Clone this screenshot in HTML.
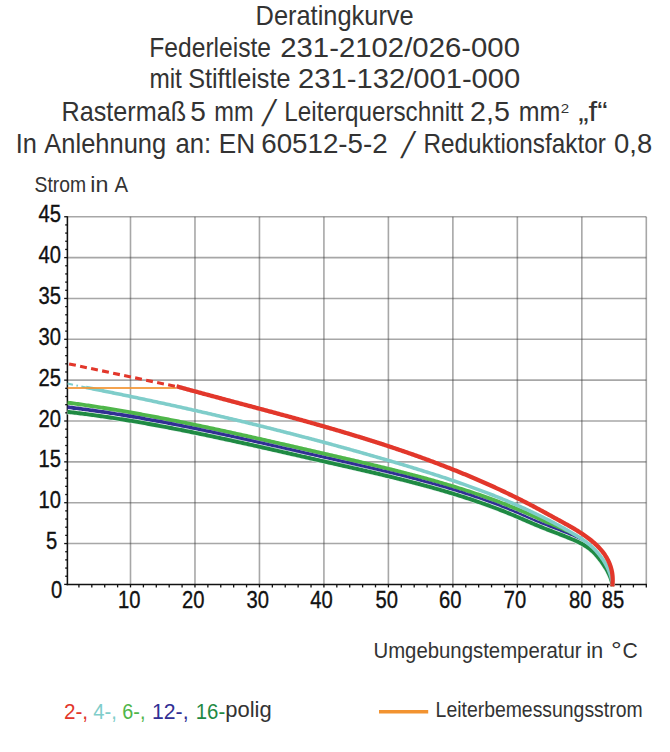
<!DOCTYPE html>
<html lang="de"><head><meta charset="utf-8"><title>Deratingkurve</title>
<style>html,body{margin:0;padding:0;background:#fff;}body{width:670px;height:752px;overflow:hidden;position:relative;}svg{position:absolute;left:0;top:0;display:block;}text{font-family:'Liberation Sans', 'DejaVu Sans', sans-serif;fill:#333;}.ax{font-size:23.5px;fill:#111;stroke:#111;stroke-width:0.35px;}</style></head><body>
<svg width="670" height="752" viewBox="0 0 670 752">
<rect x="0" y="0" width="670" height="752" fill="#fff"/>
<g stroke="#3c3c3c" stroke-opacity="0.45" stroke-width="1.6" fill="none"><line x1="130.50" y1="216.75" x2="130.50" y2="584.40"/><line x1="194.97" y1="216.75" x2="194.97" y2="584.40"/><line x1="259.45" y1="216.75" x2="259.45" y2="584.40"/><line x1="323.92" y1="216.75" x2="323.92" y2="584.40"/><line x1="388.40" y1="216.75" x2="388.40" y2="584.40"/><line x1="452.88" y1="216.75" x2="452.88" y2="584.40"/><line x1="517.35" y1="216.75" x2="517.35" y2="584.40"/><line x1="581.83" y1="216.75" x2="581.83" y2="584.40"/><line x1="646.30" y1="216.75" x2="646.30" y2="584.40"/><line x1="67.40" y1="543.55" x2="646.30" y2="543.55"/><line x1="67.40" y1="502.70" x2="646.30" y2="502.70"/><line x1="67.40" y1="461.85" x2="646.30" y2="461.85"/><line x1="67.40" y1="421.00" x2="646.30" y2="421.00"/><line x1="67.40" y1="380.15" x2="646.30" y2="380.15"/><line x1="67.40" y1="339.30" x2="646.30" y2="339.30"/><line x1="67.40" y1="298.45" x2="646.30" y2="298.45"/><line x1="67.40" y1="257.60" x2="646.30" y2="257.60"/><line x1="67.40" y1="216.75" x2="646.30" y2="216.75"/></g>
<g stroke="#111" fill="none"><line x1="67.40" y1="216.15" x2="67.40" y2="585.20" stroke-width="1.55"/><line x1="66.60" y1="584.40" x2="646.90" y2="584.40" stroke-width="1.55"/><line x1="64.20" y1="584.40" x2="67.40" y2="584.40" stroke-width="1.3"/><line x1="65.20" y1="576.23" x2="67.40" y2="576.23" stroke-width="1.3"/><line x1="65.20" y1="568.06" x2="67.40" y2="568.06" stroke-width="1.3"/><line x1="65.20" y1="559.89" x2="67.40" y2="559.89" stroke-width="1.3"/><line x1="65.20" y1="551.72" x2="67.40" y2="551.72" stroke-width="1.3"/><line x1="64.20" y1="543.55" x2="67.40" y2="543.55" stroke-width="1.3"/><line x1="65.20" y1="535.38" x2="67.40" y2="535.38" stroke-width="1.3"/><line x1="65.20" y1="527.21" x2="67.40" y2="527.21" stroke-width="1.3"/><line x1="65.20" y1="519.04" x2="67.40" y2="519.04" stroke-width="1.3"/><line x1="65.20" y1="510.87" x2="67.40" y2="510.87" stroke-width="1.3"/><line x1="64.20" y1="502.70" x2="67.40" y2="502.70" stroke-width="1.3"/><line x1="65.20" y1="494.53" x2="67.40" y2="494.53" stroke-width="1.3"/><line x1="65.20" y1="486.36" x2="67.40" y2="486.36" stroke-width="1.3"/><line x1="65.20" y1="478.19" x2="67.40" y2="478.19" stroke-width="1.3"/><line x1="65.20" y1="470.02" x2="67.40" y2="470.02" stroke-width="1.3"/><line x1="64.20" y1="461.85" x2="67.40" y2="461.85" stroke-width="1.3"/><line x1="65.20" y1="453.68" x2="67.40" y2="453.68" stroke-width="1.3"/><line x1="65.20" y1="445.51" x2="67.40" y2="445.51" stroke-width="1.3"/><line x1="65.20" y1="437.34" x2="67.40" y2="437.34" stroke-width="1.3"/><line x1="65.20" y1="429.17" x2="67.40" y2="429.17" stroke-width="1.3"/><line x1="64.20" y1="421.00" x2="67.40" y2="421.00" stroke-width="1.3"/><line x1="65.20" y1="412.83" x2="67.40" y2="412.83" stroke-width="1.3"/><line x1="65.20" y1="404.66" x2="67.40" y2="404.66" stroke-width="1.3"/><line x1="65.20" y1="396.49" x2="67.40" y2="396.49" stroke-width="1.3"/><line x1="65.20" y1="388.32" x2="67.40" y2="388.32" stroke-width="1.3"/><line x1="64.20" y1="380.15" x2="67.40" y2="380.15" stroke-width="1.3"/><line x1="65.20" y1="371.98" x2="67.40" y2="371.98" stroke-width="1.3"/><line x1="65.20" y1="363.81" x2="67.40" y2="363.81" stroke-width="1.3"/><line x1="65.20" y1="355.64" x2="67.40" y2="355.64" stroke-width="1.3"/><line x1="65.20" y1="347.47" x2="67.40" y2="347.47" stroke-width="1.3"/><line x1="64.20" y1="339.30" x2="67.40" y2="339.30" stroke-width="1.3"/><line x1="65.20" y1="331.13" x2="67.40" y2="331.13" stroke-width="1.3"/><line x1="65.20" y1="322.96" x2="67.40" y2="322.96" stroke-width="1.3"/><line x1="65.20" y1="314.79" x2="67.40" y2="314.79" stroke-width="1.3"/><line x1="65.20" y1="306.62" x2="67.40" y2="306.62" stroke-width="1.3"/><line x1="64.20" y1="298.45" x2="67.40" y2="298.45" stroke-width="1.3"/><line x1="65.20" y1="290.28" x2="67.40" y2="290.28" stroke-width="1.3"/><line x1="65.20" y1="282.11" x2="67.40" y2="282.11" stroke-width="1.3"/><line x1="65.20" y1="273.94" x2="67.40" y2="273.94" stroke-width="1.3"/><line x1="65.20" y1="265.77" x2="67.40" y2="265.77" stroke-width="1.3"/><line x1="64.20" y1="257.60" x2="67.40" y2="257.60" stroke-width="1.3"/><line x1="65.20" y1="249.43" x2="67.40" y2="249.43" stroke-width="1.3"/><line x1="65.20" y1="241.26" x2="67.40" y2="241.26" stroke-width="1.3"/><line x1="65.20" y1="233.09" x2="67.40" y2="233.09" stroke-width="1.3"/><line x1="65.20" y1="224.92" x2="67.40" y2="224.92" stroke-width="1.3"/><line x1="64.20" y1="216.75" x2="67.40" y2="216.75" stroke-width="1.3"/><line x1="78.92" y1="584.40" x2="78.92" y2="587.40" stroke-width="1.3"/><line x1="91.81" y1="584.40" x2="91.81" y2="587.40" stroke-width="1.3"/><line x1="104.71" y1="584.40" x2="104.71" y2="587.40" stroke-width="1.3"/><line x1="117.61" y1="584.40" x2="117.61" y2="587.40" stroke-width="1.3"/><line x1="130.50" y1="584.40" x2="130.50" y2="587.40" stroke-width="1.3"/><line x1="143.40" y1="584.40" x2="143.40" y2="587.40" stroke-width="1.3"/><line x1="156.29" y1="584.40" x2="156.29" y2="587.40" stroke-width="1.3"/><line x1="169.19" y1="584.40" x2="169.19" y2="587.40" stroke-width="1.3"/><line x1="182.08" y1="584.40" x2="182.08" y2="587.40" stroke-width="1.3"/><line x1="194.97" y1="584.40" x2="194.97" y2="587.40" stroke-width="1.3"/><line x1="207.87" y1="584.40" x2="207.87" y2="587.40" stroke-width="1.3"/><line x1="220.76" y1="584.40" x2="220.76" y2="587.40" stroke-width="1.3"/><line x1="233.66" y1="584.40" x2="233.66" y2="587.40" stroke-width="1.3"/><line x1="246.56" y1="584.40" x2="246.56" y2="587.40" stroke-width="1.3"/><line x1="259.45" y1="584.40" x2="259.45" y2="587.40" stroke-width="1.3"/><line x1="272.35" y1="584.40" x2="272.35" y2="587.40" stroke-width="1.3"/><line x1="285.24" y1="584.40" x2="285.24" y2="587.40" stroke-width="1.3"/><line x1="298.13" y1="584.40" x2="298.13" y2="587.40" stroke-width="1.3"/><line x1="311.03" y1="584.40" x2="311.03" y2="587.40" stroke-width="1.3"/><line x1="323.92" y1="584.40" x2="323.92" y2="587.40" stroke-width="1.3"/><line x1="336.82" y1="584.40" x2="336.82" y2="587.40" stroke-width="1.3"/><line x1="349.72" y1="584.40" x2="349.72" y2="587.40" stroke-width="1.3"/><line x1="362.61" y1="584.40" x2="362.61" y2="587.40" stroke-width="1.3"/><line x1="375.50" y1="584.40" x2="375.50" y2="587.40" stroke-width="1.3"/><line x1="388.40" y1="584.40" x2="388.40" y2="587.40" stroke-width="1.3"/><line x1="401.30" y1="584.40" x2="401.30" y2="587.40" stroke-width="1.3"/><line x1="414.19" y1="584.40" x2="414.19" y2="587.40" stroke-width="1.3"/><line x1="427.08" y1="584.40" x2="427.08" y2="587.40" stroke-width="1.3"/><line x1="439.98" y1="584.40" x2="439.98" y2="587.40" stroke-width="1.3"/><line x1="452.88" y1="584.40" x2="452.88" y2="587.40" stroke-width="1.3"/><line x1="465.77" y1="584.40" x2="465.77" y2="587.40" stroke-width="1.3"/><line x1="478.66" y1="584.40" x2="478.66" y2="587.40" stroke-width="1.3"/><line x1="491.56" y1="584.40" x2="491.56" y2="587.40" stroke-width="1.3"/><line x1="504.45" y1="584.40" x2="504.45" y2="587.40" stroke-width="1.3"/><line x1="517.35" y1="584.40" x2="517.35" y2="587.40" stroke-width="1.3"/><line x1="530.25" y1="584.40" x2="530.25" y2="587.40" stroke-width="1.3"/><line x1="543.14" y1="584.40" x2="543.14" y2="587.40" stroke-width="1.3"/><line x1="556.03" y1="584.40" x2="556.03" y2="587.40" stroke-width="1.3"/><line x1="568.93" y1="584.40" x2="568.93" y2="587.40" stroke-width="1.3"/><line x1="581.83" y1="584.40" x2="581.83" y2="587.40" stroke-width="1.3"/><line x1="594.72" y1="584.40" x2="594.72" y2="587.40" stroke-width="1.3"/><line x1="607.62" y1="584.40" x2="607.62" y2="587.40" stroke-width="1.3"/><line x1="620.51" y1="584.40" x2="620.51" y2="587.40" stroke-width="1.3"/><line x1="633.40" y1="584.40" x2="633.40" y2="587.40" stroke-width="1.3"/><line x1="646.30" y1="584.40" x2="646.30" y2="587.40" stroke-width="1.3"/></g>
<text class="ax" x="57.3" y="549.1" text-anchor="end" transform="translate(57.3 0) scale(0.86 1) translate(-57.3 0)">5</text><text class="ax" x="60.9" y="508.3" text-anchor="end" transform="translate(60.9 0) scale(0.86 1) translate(-60.9 0)">10</text><text class="ax" x="60.9" y="467.4" text-anchor="end" transform="translate(60.9 0) scale(0.86 1) translate(-60.9 0)">15</text><text class="ax" x="60.9" y="426.6" text-anchor="end" transform="translate(60.9 0) scale(0.86 1) translate(-60.9 0)">20</text><text class="ax" x="60.9" y="385.8" text-anchor="end" transform="translate(60.9 0) scale(0.86 1) translate(-60.9 0)">25</text><text class="ax" x="60.9" y="344.9" text-anchor="end" transform="translate(60.9 0) scale(0.86 1) translate(-60.9 0)">30</text><text class="ax" x="60.9" y="304.1" text-anchor="end" transform="translate(60.9 0) scale(0.86 1) translate(-60.9 0)">35</text><text class="ax" x="60.9" y="263.2" text-anchor="end" transform="translate(60.9 0) scale(0.86 1) translate(-60.9 0)">40</text><text class="ax" x="60.9" y="222.3" text-anchor="end" transform="translate(60.9 0) scale(0.86 1) translate(-60.9 0)">45</text><text class="ax" x="62.2" y="598.2" text-anchor="end" transform="translate(62.2 0) scale(0.86 1) translate(-62.2 0)">0</text>
<text class="ax" x="129.2" y="608.5" text-anchor="middle" transform="translate(129.2 0) scale(0.86 1) translate(-129.2 0)">10</text><text class="ax" x="193.2" y="608.5" text-anchor="middle" transform="translate(193.2 0) scale(0.86 1) translate(-193.2 0)">20</text><text class="ax" x="257.7" y="608.5" text-anchor="middle" transform="translate(257.7 0) scale(0.86 1) translate(-257.7 0)">30</text><text class="ax" x="321.5" y="608.5" text-anchor="middle" transform="translate(321.5 0) scale(0.86 1) translate(-321.5 0)">40</text><text class="ax" x="386.7" y="608.5" text-anchor="middle" transform="translate(386.7 0) scale(0.86 1) translate(-386.7 0)">50</text><text class="ax" x="450.3" y="608.5" text-anchor="middle" transform="translate(450.3 0) scale(0.86 1) translate(-450.3 0)">60</text><text class="ax" x="515.0" y="608.5" text-anchor="middle" transform="translate(515.0 0) scale(0.86 1) translate(-515.0 0)">70</text><text class="ax" x="580.3" y="608.5" text-anchor="middle" transform="translate(580.3 0) scale(0.86 1) translate(-580.3 0)">80</text><text class="ax" x="612.9" y="608.5" text-anchor="middle" transform="translate(612.9 0) scale(0.86 1) translate(-612.9 0)">85</text>
<path d="M67.53,402.63 L69.00,402.83 L70.48,403.03 L71.96,403.23 L73.43,403.43 L74.91,403.64 L76.38,403.84 L77.85,404.05 L79.33,404.26 L80.80,404.47 L82.27,404.68 L83.74,404.90 L85.22,405.11 L86.69,405.33 L88.16,405.55 L89.63,405.76 L91.10,405.99 L92.57,406.21 L94.04,406.43 L95.51,406.66 L96.97,406.88 L98.44,407.11 L99.91,407.34 L101.38,407.57 L102.84,407.80 L104.31,408.04 L105.77,408.27 L107.24,408.51 L108.71,408.74 L110.17,408.98 L111.63,409.22 L113.10,409.46 L114.56,409.71 L116.02,409.95 L117.49,410.20 L118.95,410.44 L120.41,410.69 L121.87,410.94 L123.34,411.19 L124.80,411.44 L126.26,411.69 L127.72,411.95 L129.18,412.20 L130.64,412.46 L132.10,412.72 L133.56,412.98 L135.02,413.23 L136.47,413.50 L137.93,413.76 L139.39,414.02 L140.85,414.29 L142.30,414.55 L143.76,414.82 L145.22,415.09 L146.67,415.35 L148.13,415.62 L149.59,415.90 L151.04,416.17 L152.50,416.44 L153.95,416.72 L155.41,416.99 L156.86,417.27 L158.32,417.54 L159.77,417.82 L161.22,418.10 L162.68,418.38 L164.13,418.66 L165.58,418.95 L167.03,419.23 L168.49,419.51 L169.94,419.80 L171.39,420.08 L172.84,420.37 L174.29,420.66 L175.75,420.95 L177.20,421.24 L178.65,421.53 L180.10,421.82 L181.55,422.11 L183.00,422.41 L184.45,422.70 L185.90,422.99 L187.35,423.29 L188.80,423.59 L190.25,423.88 L191.70,424.18 L193.15,424.48 L194.59,424.78 L196.04,425.08 L197.49,425.38 L198.94,425.69 L200.39,425.99 L201.83,426.29 L203.28,426.60 L204.73,426.90 L206.18,427.21 L207.62,427.51 L209.07,427.82 L210.52,428.13 L211.97,428.44 L213.41,428.75 L214.86,429.06 L216.31,429.37 L217.75,429.68 L219.20,429.99 L220.64,430.30 L222.09,430.62 L223.54,430.93 L224.98,431.24 L226.43,431.56 L227.87,431.87 L229.32,432.19 L230.76,432.51 L232.21,432.82 L233.66,433.14 L235.10,433.46 L236.55,433.78 L237.99,434.10 L239.44,434.42 L240.88,434.74 L242.33,435.06 L243.77,435.38 L245.21,435.70 L246.66,436.02 L248.10,436.34 L249.55,436.67 L250.99,436.99 L252.44,437.31 L253.88,437.64 L255.33,437.96 L256.77,438.29 L258.22,438.61 L259.66,438.94 L261.10,439.26 L262.55,439.59 L263.99,439.92 L265.44,440.24 L266.88,440.57 L268.33,440.90 L269.77,441.23 L271.22,441.56 L272.66,441.88 L274.10,442.21 L275.55,442.54 L276.99,442.87 L278.44,443.20 L279.88,443.53 L281.33,443.86 L282.77,444.19 L284.22,444.52 L285.66,444.85 L287.11,445.18 L288.55,445.51 L289.99,445.85 L291.44,446.18 L292.88,446.51 L294.33,446.84 L295.77,447.17 L297.22,447.50 L298.67,447.84 L300.11,448.17 L301.56,448.50 L303.00,448.83 L304.45,449.17 L305.89,449.50 L307.34,449.83 L308.78,450.16 L310.23,450.50 L311.68,450.83 L313.12,451.16 L314.57,451.49 L316.02,451.83 L317.46,452.16 L318.91,452.49 L320.36,452.83 L321.80,453.16 L323.25,453.49 L324.70,453.82 L326.14,454.16 L327.59,454.49 L329.04,454.82 L330.49,455.15 L331.93,455.49 L333.38,455.82 L334.83,456.15 L336.28,456.49 L337.73,456.82 L339.17,457.15 L340.62,457.49 L342.07,457.82 L343.52,458.15 L344.97,458.49 L346.41,458.82 L347.86,459.16 L349.31,459.49 L350.76,459.83 L352.21,460.17 L353.65,460.50 L355.10,460.84 L356.55,461.18 L358.00,461.52 L359.44,461.86 L360.89,462.19 L362.34,462.53 L363.79,462.88 L365.23,463.22 L366.68,463.56 L368.13,463.90 L369.57,464.25 L371.02,464.59 L372.46,464.93 L373.91,465.28 L375.35,465.63 L376.80,465.97 L378.24,466.32 L379.69,466.67 L381.13,467.02 L382.58,467.37 L384.02,467.73 L385.46,468.08 L386.91,468.43 L388.35,468.79 L389.79,469.15 L391.23,469.50 L392.68,469.86 L394.12,470.22 L395.56,470.58 L397.00,470.95 L398.44,471.31 L399.88,471.67 L401.32,472.04 L402.76,472.41 L404.19,472.78 L405.63,473.15 L407.07,473.52 L408.51,473.89 L409.94,474.27 L411.38,474.64 L412.81,475.02 L414.25,475.40 L415.68,475.78 L417.12,476.16 L418.55,476.55 L419.98,476.93 L421.41,477.32 L422.84,477.71 L424.28,478.10 L425.71,478.49 L427.13,478.89 L428.56,479.28 L429.99,479.68 L431.42,480.08 L432.85,480.48 L434.27,480.88 L435.70,481.29 L437.12,481.70 L438.55,482.10 L439.97,482.52 L441.39,482.93 L442.81,483.34 L444.23,483.76 L445.65,484.18 L447.07,484.60 L448.49,485.03 L449.91,485.45 L451.33,485.88 L452.74,486.31 L454.16,486.74 L455.57,487.18 L456.99,487.61 L458.40,488.05 L459.81,488.50 L461.22,488.94 L462.63,489.39 L464.04,489.83 L465.45,490.29 L466.86,490.74 L468.26,491.20 L469.67,491.66 L471.07,492.12 L472.47,492.58 L473.88,493.05 L475.28,493.52 L476.68,493.99 L478.08,494.46 L479.48,494.94 L480.87,495.42 L482.27,495.90 L483.66,496.39 L485.06,496.88 L486.45,497.37 L487.84,497.87 L489.23,498.36 L490.62,498.86 L492.01,499.37 L493.40,499.87 L494.78,500.38 L496.17,500.89 L497.55,501.41 L498.94,501.93 L500.32,502.45 L501.70,502.97 L503.08,503.50 L504.45,504.03 L505.83,504.56 L507.20,505.10 L508.58,505.64 L509.95,506.19 L511.32,506.73 L512.69,507.28 L514.06,507.84 L515.43,508.39 L516.79,508.95 L518.16,509.52 L519.52,510.09 L520.88,510.66 L522.24,511.23 L523.60,511.81 L524.96,512.39 L526.32,512.98 L527.67,513.56 L529.03,514.16 L530.38,514.75 L531.73,515.35 L533.08,515.96 L534.42,516.56 L535.77,517.17 L537.12,517.79 L538.46,518.41 L539.80,519.03 L541.14,519.66 L542.48,520.29 L543.82,520.92 L545.15,521.56 L546.48,522.20 L547.82,522.85 L549.15,523.50 L550.48,524.15 L551.80,524.81 L553.13,525.47 L554.45,526.14 L555.78,526.81 L557.10,527.49 L558.42,528.16 L559.73,528.85 L561.05,529.54 L562.36,530.23 L563.67,530.92 L564.99,531.62 L566.29,532.33 L567.60,533.04 L568.91,533.75 L570.21,534.47 L571.51,535.19 L572.81,535.92 L574.11,536.65 L575.40,537.40 L576.68,538.15 L577.96,538.91 L579.23,539.68 L580.49,540.46 L581.74,541.25 L582.98,542.06 L584.21,542.88 L585.43,543.72 L586.63,544.57 L587.82,545.45 L588.99,546.34 L590.14,547.25 L591.27,548.18 L592.39,549.14 L593.48,550.11 L594.56,551.11 L595.61,552.14 L596.64,553.18 L597.64,554.25 L598.62,555.34 L599.58,556.45 L600.51,557.59 L601.41,558.75 L602.29,559.93 L603.13,561.13 L603.95,562.36 L604.74,563.61 L605.50,564.88 L606.23,566.17 L606.92,567.48 L607.58,568.81 L608.21,570.16 L608.80,571.54 L609.36,572.93 L609.88,574.33 L610.36,575.76 L610.81,577.20 L611.22,578.66 L611.59,580.14 L611.92,581.64 L612.20,583.14 L612.45,584.67 L612.65,586.21" stroke="#4fb64a" stroke-width="3.9" fill="none" stroke-linejoin="round"/>
<path d="M67.55,407.24 L69.02,407.42 L70.49,407.60 L71.96,407.78 L73.43,407.96 L74.90,408.15 L76.37,408.34 L77.83,408.53 L79.30,408.72 L80.77,408.91 L82.24,409.11 L83.70,409.31 L85.17,409.51 L86.64,409.71 L88.10,409.91 L89.57,410.11 L91.03,410.32 L92.50,410.53 L93.96,410.74 L95.42,410.95 L96.89,411.16 L98.35,411.37 L99.81,411.59 L101.27,411.81 L102.73,412.03 L104.19,412.25 L105.66,412.47 L107.12,412.69 L108.58,412.92 L110.04,413.15 L111.49,413.38 L112.95,413.61 L114.41,413.84 L115.87,414.07 L117.33,414.31 L118.78,414.54 L120.24,414.78 L121.70,415.02 L123.15,415.26 L124.61,415.51 L126.07,415.75 L127.52,415.99 L128.98,416.24 L130.43,416.49 L131.89,416.74 L133.34,416.99 L134.79,417.24 L136.25,417.50 L137.70,417.75 L139.15,418.01 L140.61,418.27 L142.06,418.52 L143.51,418.79 L144.96,419.05 L146.41,419.31 L147.86,419.57 L149.31,419.84 L150.76,420.11 L152.21,420.37 L153.66,420.64 L155.11,420.91 L156.56,421.19 L158.01,421.46 L159.46,421.73 L160.91,422.01 L162.36,422.28 L163.81,422.56 L165.25,422.84 L166.70,423.12 L168.15,423.40 L169.60,423.68 L171.04,423.96 L172.49,424.25 L173.94,424.53 L175.38,424.82 L176.83,425.11 L178.28,425.39 L179.72,425.68 L181.17,425.97 L182.61,426.26 L184.06,426.56 L185.50,426.85 L186.95,427.14 L188.39,427.44 L189.83,427.73 L191.28,428.03 L192.72,428.33 L194.17,428.63 L195.61,428.93 L197.05,429.23 L198.50,429.53 L199.94,429.83 L201.38,430.13 L202.82,430.44 L204.27,430.74 L205.71,431.04 L207.15,431.35 L208.59,431.66 L210.04,431.96 L211.48,432.27 L212.92,432.58 L214.36,432.89 L215.80,433.20 L217.24,433.51 L218.68,433.82 L220.12,434.14 L221.57,434.45 L223.01,434.76 L224.45,435.08 L225.89,435.39 L227.33,435.71 L228.77,436.02 L230.21,436.34 L231.65,436.66 L233.09,436.98 L234.53,437.30 L235.97,437.61 L237.41,437.93 L238.85,438.25 L240.29,438.57 L241.73,438.90 L243.17,439.22 L244.61,439.54 L246.05,439.86 L247.49,440.18 L248.92,440.51 L250.36,440.83 L251.80,441.16 L253.24,441.48 L254.68,441.80 L256.12,442.13 L257.56,442.46 L259.00,442.78 L260.44,443.11 L261.88,443.43 L263.32,443.76 L264.75,444.09 L266.19,444.42 L267.63,444.74 L269.07,445.07 L270.51,445.40 L271.95,445.73 L273.39,446.06 L274.83,446.39 L276.27,446.72 L277.71,447.05 L279.14,447.38 L280.58,447.71 L282.02,448.04 L283.46,448.37 L284.90,448.70 L286.34,449.03 L287.78,449.36 L289.22,449.69 L290.66,450.02 L292.10,450.35 L293.54,450.68 L294.97,451.01 L296.41,451.34 L297.85,451.67 L299.29,452.00 L300.73,452.33 L302.17,452.66 L303.61,453.00 L305.05,453.33 L306.49,453.66 L307.93,453.99 L309.37,454.32 L310.81,454.65 L312.25,454.98 L313.69,455.31 L315.13,455.64 L316.57,455.97 L318.01,456.30 L319.46,456.63 L320.90,456.96 L322.34,457.29 L323.78,457.62 L325.22,457.95 L326.66,458.28 L328.10,458.61 L329.54,458.94 L330.99,459.26 L332.43,459.59 L333.87,459.92 L335.31,460.25 L336.75,460.58 L338.19,460.91 L339.64,461.24 L341.08,461.57 L342.52,461.89 L343.96,462.22 L345.40,462.55 L346.85,462.88 L348.29,463.21 L349.73,463.54 L351.17,463.87 L352.61,464.21 L354.05,464.54 L355.49,464.87 L356.94,465.20 L358.38,465.53 L359.82,465.87 L361.26,466.20 L362.70,466.54 L364.14,466.87 L365.58,467.21 L367.02,467.54 L368.46,467.88 L369.90,468.22 L371.34,468.56 L372.78,468.90 L374.22,469.24 L375.66,469.58 L377.09,469.92 L378.53,470.26 L379.97,470.61 L381.41,470.95 L382.84,471.30 L384.28,471.64 L385.72,471.99 L387.15,472.34 L388.59,472.69 L390.02,473.04 L391.46,473.39 L392.89,473.75 L394.33,474.10 L395.76,474.46 L397.20,474.82 L398.63,475.17 L400.06,475.53 L401.49,475.90 L402.92,476.26 L404.36,476.62 L405.79,476.99 L407.22,477.36 L408.65,477.73 L410.08,478.10 L411.50,478.47 L412.93,478.84 L414.36,479.22 L415.79,479.59 L417.21,479.97 L418.64,480.35 L420.06,480.74 L421.49,481.12 L422.91,481.51 L424.33,481.89 L425.76,482.28 L427.18,482.67 L428.60,483.07 L430.02,483.46 L431.44,483.86 L432.86,484.26 L434.28,484.66 L435.70,485.07 L437.11,485.47 L438.53,485.88 L439.95,486.29 L441.36,486.70 L442.77,487.12 L444.19,487.53 L445.60,487.95 L447.01,488.38 L448.42,488.80 L449.83,489.23 L451.24,489.65 L452.65,490.09 L454.06,490.52 L455.46,490.96 L456.87,491.39 L458.27,491.84 L459.68,492.28 L461.08,492.73 L462.48,493.18 L463.88,493.63 L465.28,494.08 L466.68,494.54 L468.08,495.00 L469.48,495.46 L470.87,495.93 L472.27,496.40 L473.66,496.87 L475.06,497.35 L476.45,497.82 L477.84,498.30 L479.23,498.79 L480.62,499.28 L482.01,499.77 L483.39,500.26 L484.78,500.75 L486.16,501.25 L487.55,501.76 L488.93,502.26 L490.31,502.77 L491.69,503.28 L493.07,503.80 L494.44,504.32 L495.82,504.84 L497.20,505.37 L498.57,505.90 L499.94,506.43 L501.31,506.97 L502.68,507.51 L504.05,508.05 L505.42,508.60 L506.79,509.15 L508.15,509.70 L509.52,510.26 L510.88,510.82 L512.24,511.39 L513.60,511.96 L514.96,512.53 L516.32,513.11 L517.67,513.69 L519.03,514.27 L520.38,514.86 L521.73,515.45 L523.08,516.04 L524.44,516.64 L525.79,517.23 L527.14,517.83 L528.49,518.42 L529.84,519.02 L531.20,519.61 L532.55,520.21 L533.90,520.80 L535.26,521.39 L536.62,521.98 L537.98,522.56 L539.34,523.14 L540.70,523.72 L542.07,524.29 L543.43,524.86 L544.80,525.43 L546.17,525.99 L547.54,526.56 L548.91,527.12 L550.28,527.68 L551.65,528.24 L553.02,528.81 L554.39,529.37 L555.76,529.94 L557.12,530.51 L558.49,531.08 L559.85,531.66 L561.21,532.24 L562.56,532.83 L563.91,533.42 L565.26,534.02 L566.60,534.63 L567.94,535.24 L569.27,535.87 L570.60,536.50 L571.92,537.15 L573.23,537.80 L574.54,538.47 L575.84,539.15 L577.13,539.84 L578.41,540.55 L579.68,541.27 L580.94,542.01 L582.19,542.77 L583.42,543.55 L584.64,544.35 L585.85,545.17 L587.03,546.01 L588.21,546.87 L589.36,547.76 L590.50,548.67 L591.62,549.61 L592.71,550.58 L593.79,551.57 L594.85,552.59 L595.88,553.64 L596.89,554.71 L597.88,555.80 L598.85,556.92 L599.79,558.06 L600.71,559.22 L601.60,560.40 L602.47,561.61 L603.31,562.83 L604.13,564.08 L604.91,565.35 L605.67,566.63 L606.39,567.93 L607.09,569.24 L607.76,570.58 L608.39,571.92 L608.99,573.28 L609.55,574.65 L610.08,576.04 L610.57,577.43 L611.03,578.83 L611.45,580.25 L611.83,581.67 L612.17,583.09 L612.46,584.53 L612.72,585.97" stroke="#312f94" stroke-width="3.9" fill="none" stroke-linejoin="round"/>
<path d="M67.54,411.86 L69.01,412.03 L70.47,412.20 L71.94,412.37 L73.41,412.54 L74.87,412.72 L76.34,412.90 L77.80,413.07 L79.27,413.26 L80.73,413.44 L82.19,413.62 L83.65,413.81 L85.12,414.00 L86.58,414.19 L88.04,414.38 L89.50,414.58 L90.96,414.77 L92.42,414.97 L93.88,415.17 L95.34,415.37 L96.80,415.58 L98.26,415.78 L99.72,415.99 L101.17,416.20 L102.63,416.41 L104.09,416.62 L105.55,416.83 L107.00,417.05 L108.46,417.27 L109.91,417.48 L111.37,417.70 L112.82,417.93 L114.28,418.15 L115.73,418.38 L117.18,418.60 L118.64,418.83 L120.09,419.06 L121.54,419.29 L122.99,419.52 L124.45,419.76 L125.90,419.99 L127.35,420.23 L128.80,420.47 L130.25,420.71 L131.70,420.95 L133.15,421.20 L134.60,421.44 L136.05,421.69 L137.50,421.93 L138.94,422.18 L140.39,422.43 L141.84,422.69 L143.29,422.94 L144.73,423.19 L146.18,423.45 L147.63,423.71 L149.07,423.96 L150.52,424.22 L151.97,424.49 L153.41,424.75 L154.86,425.01 L156.30,425.28 L157.75,425.54 L159.19,425.81 L160.63,426.08 L162.08,426.35 L163.52,426.62 L164.96,426.89 L166.41,427.16 L167.85,427.44 L169.29,427.71 L170.74,427.99 L172.18,428.27 L173.62,428.55 L175.06,428.83 L176.50,429.11 L177.94,429.39 L179.38,429.67 L180.82,429.96 L182.26,430.24 L183.71,430.53 L185.15,430.82 L186.59,431.10 L188.02,431.39 L189.46,431.68 L190.90,431.98 L192.34,432.27 L193.78,432.56 L195.22,432.85 L196.66,433.15 L198.10,433.44 L199.54,433.74 L200.97,434.04 L202.41,434.34 L203.85,434.64 L205.29,434.94 L206.72,435.24 L208.16,435.54 L209.60,435.84 L211.03,436.14 L212.47,436.45 L213.91,436.75 L215.34,437.06 L216.78,437.36 L218.22,437.67 L219.65,437.98 L221.09,438.29 L222.53,438.60 L223.96,438.91 L225.40,439.22 L226.83,439.53 L228.27,439.84 L229.70,440.15 L231.14,440.46 L232.57,440.78 L234.01,441.09 L235.44,441.41 L236.88,441.72 L238.31,442.04 L239.75,442.35 L241.18,442.67 L242.62,442.99 L244.05,443.31 L245.49,443.62 L246.92,443.94 L248.36,444.26 L249.79,444.58 L251.22,444.90 L252.66,445.22 L254.09,445.54 L255.53,445.86 L256.96,446.19 L258.39,446.51 L259.83,446.83 L261.26,447.15 L262.70,447.48 L264.13,447.80 L265.56,448.12 L267.00,448.45 L268.43,448.77 L269.87,449.10 L271.30,449.42 L272.73,449.75 L274.17,450.07 L275.60,450.40 L277.04,450.72 L278.47,451.05 L279.90,451.38 L281.34,451.70 L282.77,452.03 L284.21,452.35 L285.64,452.68 L287.07,453.01 L288.51,453.34 L289.94,453.66 L291.38,453.99 L292.81,454.32 L294.25,454.64 L295.68,454.97 L297.12,455.30 L298.55,455.63 L299.98,455.95 L301.42,456.28 L302.85,456.61 L304.29,456.94 L305.72,457.26 L307.16,457.59 L308.59,457.92 L310.03,458.25 L311.46,458.57 L312.90,458.90 L314.34,459.23 L315.77,459.55 L317.21,459.88 L318.64,460.21 L320.08,460.53 L321.52,460.86 L322.95,461.19 L324.39,461.51 L325.82,461.84 L327.26,462.16 L328.70,462.49 L330.13,462.81 L331.57,463.14 L333.01,463.46 L334.44,463.79 L335.88,464.11 L337.32,464.44 L338.76,464.76 L340.19,465.09 L341.63,465.42 L343.07,465.74 L344.50,466.07 L345.94,466.39 L347.38,466.72 L348.82,467.05 L350.25,467.37 L351.69,467.70 L353.13,468.03 L354.56,468.36 L356.00,468.68 L357.44,469.01 L358.87,469.34 L360.31,469.67 L361.74,470.00 L363.18,470.33 L364.62,470.67 L366.05,471.00 L367.49,471.33 L368.92,471.67 L370.36,472.00 L371.79,472.34 L373.23,472.67 L374.66,473.01 L376.09,473.35 L377.53,473.68 L378.96,474.02 L380.39,474.36 L381.83,474.71 L383.26,475.05 L384.69,475.39 L386.12,475.74 L387.55,476.08 L388.99,476.43 L390.42,476.77 L391.85,477.12 L393.28,477.47 L394.71,477.82 L396.13,478.18 L397.56,478.53 L398.99,478.89 L400.42,479.24 L401.85,479.60 L403.27,479.96 L404.70,480.32 L406.13,480.68 L407.55,481.05 L408.98,481.41 L410.40,481.78 L411.82,482.15 L413.25,482.52 L414.67,482.89 L416.09,483.26 L417.51,483.64 L418.94,484.01 L420.36,484.39 L421.78,484.77 L423.20,485.15 L424.61,485.54 L426.03,485.92 L427.45,486.31 L428.87,486.70 L430.28,487.09 L431.70,487.49 L433.11,487.88 L434.53,488.28 L435.94,488.68 L437.35,489.08 L438.76,489.48 L440.17,489.89 L441.58,490.30 L442.99,490.71 L444.40,491.12 L445.81,491.54 L447.22,491.96 L448.62,492.38 L450.03,492.80 L451.43,493.22 L452.84,493.65 L454.24,494.08 L455.64,494.51 L457.04,494.95 L458.44,495.38 L459.84,495.82 L461.24,496.26 L462.64,496.71 L464.03,497.16 L465.43,497.61 L466.82,498.06 L468.22,498.52 L469.61,498.97 L471.00,499.44 L472.39,499.90 L473.78,500.37 L475.17,500.84 L476.56,501.31 L477.94,501.79 L479.33,502.27 L480.71,502.75 L482.10,503.23 L483.48,503.72 L484.86,504.21 L486.24,504.71 L487.62,505.20 L489.00,505.70 L490.37,506.21 L491.75,506.72 L493.12,507.23 L494.50,507.74 L495.87,508.26 L497.24,508.78 L498.61,509.30 L499.98,509.83 L501.34,510.36 L502.71,510.90 L504.08,511.43 L505.44,511.97 L506.80,512.52 L508.16,513.07 L509.52,513.62 L510.88,514.18 L512.24,514.74 L513.59,515.30 L514.95,515.87 L516.30,516.44 L517.65,517.01 L519.00,517.59 L520.35,518.17 L521.70,518.76 L523.05,519.34 L524.39,519.93 L525.74,520.52 L527.09,521.10 L528.44,521.69 L529.79,522.28 L531.14,522.86 L532.49,523.44 L533.84,524.02 L535.20,524.60 L536.55,525.17 L537.91,525.74 L539.27,526.30 L540.63,526.86 L542.00,527.41 L543.37,527.96 L544.74,528.51 L546.11,529.04 L547.48,529.58 L548.86,530.11 L550.23,530.64 L551.61,531.17 L552.99,531.70 L554.36,532.22 L555.74,532.75 L557.11,533.28 L558.49,533.80 L559.86,534.33 L561.23,534.86 L562.60,535.40 L563.97,535.93 L565.34,536.47 L566.70,537.02 L568.06,537.57 L569.42,538.12 L570.77,538.68 L572.12,539.25 L573.46,539.83 L574.80,540.41 L576.13,541.01 L577.45,541.62 L578.76,542.25 L580.06,542.90 L581.34,543.57 L582.61,544.26 L583.86,544.98 L585.09,545.73 L586.31,546.51 L587.50,547.32 L588.67,548.17 L589.81,549.05 L590.93,549.97 L592.03,550.93 L593.10,551.93 L594.14,552.96 L595.16,554.02 L596.16,555.11 L597.14,556.23 L598.10,557.37 L599.03,558.54 L599.95,559.72 L600.85,560.91 L601.74,562.13 L602.60,563.35 L603.45,564.58 L604.28,565.83 L605.08,567.08 L605.86,568.35 L606.61,569.63 L607.33,570.92 L608.02,572.22 L608.68,573.53 L609.30,574.86 L609.88,576.19 L610.42,577.54 L610.92,578.90 L611.37,580.27 L611.78,581.65 L612.13,583.05 L612.43,584.46 L612.68,585.88" stroke="#e8f4f0" stroke-width="5.2" fill="none" stroke-linejoin="round"/>
<path d="M67.54,411.86 L69.01,412.03 L70.47,412.20 L71.94,412.37 L73.41,412.54 L74.87,412.72 L76.34,412.90 L77.80,413.07 L79.27,413.26 L80.73,413.44 L82.19,413.62 L83.65,413.81 L85.12,414.00 L86.58,414.19 L88.04,414.38 L89.50,414.58 L90.96,414.77 L92.42,414.97 L93.88,415.17 L95.34,415.37 L96.80,415.58 L98.26,415.78 L99.72,415.99 L101.17,416.20 L102.63,416.41 L104.09,416.62 L105.55,416.83 L107.00,417.05 L108.46,417.27 L109.91,417.48 L111.37,417.70 L112.82,417.93 L114.28,418.15 L115.73,418.38 L117.18,418.60 L118.64,418.83 L120.09,419.06 L121.54,419.29 L122.99,419.52 L124.45,419.76 L125.90,419.99 L127.35,420.23 L128.80,420.47 L130.25,420.71 L131.70,420.95 L133.15,421.20 L134.60,421.44 L136.05,421.69 L137.50,421.93 L138.94,422.18 L140.39,422.43 L141.84,422.69 L143.29,422.94 L144.73,423.19 L146.18,423.45 L147.63,423.71 L149.07,423.96 L150.52,424.22 L151.97,424.49 L153.41,424.75 L154.86,425.01 L156.30,425.28 L157.75,425.54 L159.19,425.81 L160.63,426.08 L162.08,426.35 L163.52,426.62 L164.96,426.89 L166.41,427.16 L167.85,427.44 L169.29,427.71 L170.74,427.99 L172.18,428.27 L173.62,428.55 L175.06,428.83 L176.50,429.11 L177.94,429.39 L179.38,429.67 L180.82,429.96 L182.26,430.24 L183.71,430.53 L185.15,430.82 L186.59,431.10 L188.02,431.39 L189.46,431.68 L190.90,431.98 L192.34,432.27 L193.78,432.56 L195.22,432.85 L196.66,433.15 L198.10,433.44 L199.54,433.74 L200.97,434.04 L202.41,434.34 L203.85,434.64 L205.29,434.94 L206.72,435.24 L208.16,435.54 L209.60,435.84 L211.03,436.14 L212.47,436.45 L213.91,436.75 L215.34,437.06 L216.78,437.36 L218.22,437.67 L219.65,437.98 L221.09,438.29 L222.53,438.60 L223.96,438.91 L225.40,439.22 L226.83,439.53 L228.27,439.84 L229.70,440.15 L231.14,440.46 L232.57,440.78 L234.01,441.09 L235.44,441.41 L236.88,441.72 L238.31,442.04 L239.75,442.35 L241.18,442.67 L242.62,442.99 L244.05,443.31 L245.49,443.62 L246.92,443.94 L248.36,444.26 L249.79,444.58 L251.22,444.90 L252.66,445.22 L254.09,445.54 L255.53,445.86 L256.96,446.19 L258.39,446.51 L259.83,446.83 L261.26,447.15 L262.70,447.48 L264.13,447.80 L265.56,448.12 L267.00,448.45 L268.43,448.77 L269.87,449.10 L271.30,449.42 L272.73,449.75 L274.17,450.07 L275.60,450.40 L277.04,450.72 L278.47,451.05 L279.90,451.38 L281.34,451.70 L282.77,452.03 L284.21,452.35 L285.64,452.68 L287.07,453.01 L288.51,453.34 L289.94,453.66 L291.38,453.99 L292.81,454.32 L294.25,454.64 L295.68,454.97 L297.12,455.30 L298.55,455.63 L299.98,455.95 L301.42,456.28 L302.85,456.61 L304.29,456.94 L305.72,457.26 L307.16,457.59 L308.59,457.92 L310.03,458.25 L311.46,458.57 L312.90,458.90 L314.34,459.23 L315.77,459.55 L317.21,459.88 L318.64,460.21 L320.08,460.53 L321.52,460.86 L322.95,461.19 L324.39,461.51 L325.82,461.84 L327.26,462.16 L328.70,462.49 L330.13,462.81 L331.57,463.14 L333.01,463.46 L334.44,463.79 L335.88,464.11 L337.32,464.44 L338.76,464.76 L340.19,465.09 L341.63,465.42 L343.07,465.74 L344.50,466.07 L345.94,466.39 L347.38,466.72 L348.82,467.05 L350.25,467.37 L351.69,467.70 L353.13,468.03 L354.56,468.36 L356.00,468.68 L357.44,469.01 L358.87,469.34 L360.31,469.67 L361.74,470.00 L363.18,470.33 L364.62,470.67 L366.05,471.00 L367.49,471.33 L368.92,471.67 L370.36,472.00 L371.79,472.34 L373.23,472.67 L374.66,473.01 L376.09,473.35 L377.53,473.68 L378.96,474.02 L380.39,474.36 L381.83,474.71 L383.26,475.05 L384.69,475.39 L386.12,475.74 L387.55,476.08 L388.99,476.43 L390.42,476.77 L391.85,477.12 L393.28,477.47 L394.71,477.82 L396.13,478.18 L397.56,478.53 L398.99,478.89 L400.42,479.24 L401.85,479.60 L403.27,479.96 L404.70,480.32 L406.13,480.68 L407.55,481.05 L408.98,481.41 L410.40,481.78 L411.82,482.15 L413.25,482.52 L414.67,482.89 L416.09,483.26 L417.51,483.64 L418.94,484.01 L420.36,484.39 L421.78,484.77 L423.20,485.15 L424.61,485.54 L426.03,485.92 L427.45,486.31 L428.87,486.70 L430.28,487.09 L431.70,487.49 L433.11,487.88 L434.53,488.28 L435.94,488.68 L437.35,489.08 L438.76,489.48 L440.17,489.89 L441.58,490.30 L442.99,490.71 L444.40,491.12 L445.81,491.54 L447.22,491.96 L448.62,492.38 L450.03,492.80 L451.43,493.22 L452.84,493.65 L454.24,494.08 L455.64,494.51 L457.04,494.95 L458.44,495.38 L459.84,495.82 L461.24,496.26 L462.64,496.71 L464.03,497.16 L465.43,497.61 L466.82,498.06 L468.22,498.52 L469.61,498.97 L471.00,499.44 L472.39,499.90 L473.78,500.37 L475.17,500.84 L476.56,501.31 L477.94,501.79 L479.33,502.27 L480.71,502.75 L482.10,503.23 L483.48,503.72 L484.86,504.21 L486.24,504.71 L487.62,505.20 L489.00,505.70 L490.37,506.21 L491.75,506.72 L493.12,507.23 L494.50,507.74 L495.87,508.26 L497.24,508.78 L498.61,509.30 L499.98,509.83 L501.34,510.36 L502.71,510.90 L504.08,511.43 L505.44,511.97 L506.80,512.52 L508.16,513.07 L509.52,513.62 L510.88,514.18 L512.24,514.74 L513.59,515.30 L514.95,515.87 L516.30,516.44 L517.65,517.01 L519.00,517.59 L520.35,518.17 L521.70,518.76 L523.05,519.34 L524.39,519.93 L525.74,520.52 L527.09,521.10 L528.44,521.69 L529.79,522.28 L531.14,522.86 L532.49,523.44 L533.84,524.02 L535.20,524.60 L536.55,525.17 L537.91,525.74 L539.27,526.30 L540.63,526.86 L542.00,527.41 L543.37,527.96 L544.74,528.51 L546.11,529.04 L547.48,529.58 L548.86,530.11 L550.23,530.64 L551.61,531.17 L552.99,531.70 L554.36,532.22 L555.74,532.75 L557.11,533.28 L558.49,533.80 L559.86,534.33 L561.23,534.86 L562.60,535.40 L563.97,535.93 L565.34,536.47 L566.70,537.02 L568.06,537.57 L569.42,538.12 L570.77,538.68 L572.12,539.25 L573.46,539.83 L574.80,540.41 L576.13,541.01 L577.45,541.62 L578.76,542.25 L580.06,542.90 L581.34,543.57 L582.61,544.26 L583.86,544.98 L585.09,545.73 L586.31,546.51 L587.50,547.32 L588.67,548.17 L589.81,549.05 L590.93,549.97 L592.03,550.93 L593.10,551.93 L594.14,552.96 L595.16,554.02 L596.16,555.11 L597.14,556.23 L598.10,557.37 L599.03,558.54 L599.95,559.72 L600.85,560.91 L601.74,562.13 L602.60,563.35 L603.45,564.58 L604.28,565.83 L605.08,567.08 L605.86,568.35 L606.61,569.63 L607.33,570.92 L608.02,572.22 L608.68,573.53 L609.30,574.86 L609.88,576.19 L610.42,577.54 L610.92,578.90 L611.37,580.27 L611.78,581.65 L612.13,583.05 L612.43,584.46 L612.68,585.88" stroke="#1f8a43" stroke-width="3.9" fill="none" stroke-linejoin="round"/>
<path d="M86.00,387.48 L87.42,387.76 L88.85,388.04 L90.28,388.32 L91.70,388.60 L93.13,388.88 L94.55,389.16 L95.98,389.44 L97.41,389.72 L98.83,390.01 L100.26,390.29 L101.68,390.58 L103.11,390.86 L104.53,391.15 L105.95,391.43 L107.38,391.72 L108.80,392.01 L110.23,392.29 L111.65,392.58 L113.07,392.87 L114.50,393.16 L115.92,393.45 L117.34,393.74 L118.77,394.03 L120.19,394.32 L121.61,394.61 L123.03,394.90 L124.46,395.20 L125.88,395.49 L127.30,395.78 L128.72,396.08 L130.14,396.37 L131.57,396.67 L132.99,396.96 L134.41,397.26 L135.83,397.56 L137.25,397.86 L138.67,398.15 L140.09,398.45 L141.51,398.75 L142.93,399.05 L144.35,399.35 L145.77,399.65 L147.19,399.95 L148.61,400.26 L150.03,400.56 L151.45,400.86 L152.87,401.17 L154.29,401.47 L155.70,401.77 L157.12,402.08 L158.54,402.39 L159.96,402.69 L161.38,403.00 L162.80,403.31 L164.21,403.61 L165.63,403.92 L167.05,404.23 L168.46,404.54 L169.88,404.85 L171.30,405.16 L172.72,405.47 L174.13,405.79 L175.55,406.10 L176.96,406.41 L178.38,406.72 L179.80,407.04 L181.21,407.35 L182.63,407.67 L184.04,407.98 L185.46,408.30 L186.87,408.62 L188.29,408.94 L189.70,409.25 L191.12,409.57 L192.53,409.89 L193.95,410.21 L195.36,410.53 L196.78,410.85 L198.19,411.17 L199.60,411.50 L201.02,411.82 L202.43,412.14 L203.84,412.47 L205.26,412.79 L206.67,413.12 L208.08,413.44 L209.50,413.77 L210.91,414.10 L212.32,414.42 L213.73,414.75 L215.15,415.08 L216.56,415.41 L217.97,415.74 L219.38,416.07 L220.79,416.40 L222.20,416.73 L223.62,417.06 L225.03,417.40 L226.44,417.73 L227.85,418.06 L229.26,418.40 L230.67,418.73 L232.08,419.07 L233.49,419.41 L234.90,419.74 L236.31,420.08 L237.72,420.42 L239.13,420.76 L240.54,421.10 L241.95,421.44 L243.36,421.78 L244.77,422.12 L246.17,422.46 L247.58,422.80 L248.99,423.14 L250.40,423.49 L251.81,423.83 L253.22,424.18 L254.62,424.52 L256.03,424.87 L257.44,425.22 L258.85,425.56 L260.25,425.91 L261.66,426.26 L263.07,426.61 L264.48,426.96 L265.88,427.31 L267.29,427.66 L268.70,428.01 L270.10,428.36 L271.51,428.72 L272.91,429.07 L274.32,429.42 L275.73,429.78 L277.13,430.13 L278.54,430.49 L279.94,430.85 L281.35,431.20 L282.75,431.56 L284.16,431.92 L285.56,432.28 L286.97,432.64 L288.37,433.00 L289.78,433.36 L291.18,433.72 L292.58,434.08 L293.99,434.45 L295.39,434.81 L296.80,435.17 L298.20,435.54 L299.60,435.90 L301.01,436.27 L302.41,436.64 L303.81,437.00 L305.21,437.37 L306.62,437.74 L308.02,438.11 L309.42,438.48 L310.82,438.85 L312.23,439.22 L313.63,439.59 L315.03,439.97 L316.43,440.34 L317.83,440.71 L319.24,441.09 L320.64,441.46 L322.04,441.84 L323.44,442.22 L324.84,442.59 L326.24,442.97 L327.64,443.35 L329.04,443.73 L330.44,444.11 L331.84,444.49 L333.24,444.87 L334.64,445.25 L336.04,445.63 L337.44,446.02 L338.84,446.40 L340.24,446.78 L341.64,447.17 L343.04,447.55 L344.44,447.94 L345.84,448.33 L347.24,448.72 L348.64,449.10 L350.03,449.49 L351.43,449.88 L352.83,450.27 L354.23,450.66 L355.63,451.06 L357.03,451.45 L358.42,451.84 L359.82,452.24 L361.22,452.63 L362.62,453.02 L364.01,453.42 L365.41,453.82 L366.81,454.21 L368.20,454.61 L369.60,455.01 L371.00,455.41 L372.39,455.81 L373.79,456.21 L375.19,456.61 L376.58,457.01 L377.98,457.42 L379.37,457.82 L380.77,458.22 L382.17,458.63 L383.56,459.03 L384.96,459.44 L386.35,459.85 L387.75,460.25 L389.14,460.66 L390.54,461.07 L391.93,461.48 L393.33,461.89 L394.72,462.30 L396.11,462.71 L397.51,463.13 L398.90,463.54 L400.29,463.96 L401.69,464.37 L403.08,464.79 L404.47,465.21 L405.87,465.62 L407.26,466.04 L408.65,466.46 L410.04,466.88 L411.43,467.31 L412.82,467.73 L414.21,468.16 L415.60,468.58 L416.99,469.01 L418.38,469.44 L419.77,469.87 L421.16,470.30 L422.55,470.73 L423.94,471.16 L425.32,471.60 L426.71,472.03 L428.10,472.47 L429.48,472.91 L430.87,473.35 L432.25,473.79 L433.64,474.23 L435.02,474.68 L436.40,475.12 L437.79,475.57 L439.17,476.02 L440.55,476.47 L441.93,476.92 L443.31,477.38 L444.69,477.83 L446.07,478.29 L447.45,478.75 L448.82,479.21 L450.20,479.67 L451.58,480.14 L452.95,480.60 L454.32,481.07 L455.70,481.54 L457.07,482.01 L458.44,482.49 L459.81,482.96 L461.19,483.44 L462.55,483.92 L463.92,484.40 L465.29,484.88 L466.66,485.37 L468.03,485.86 L469.39,486.35 L470.76,486.84 L472.12,487.33 L473.48,487.83 L474.84,488.32 L476.20,488.82 L477.56,489.33 L478.92,489.83 L480.28,490.34 L481.64,490.85 L482.99,491.36 L484.35,491.87 L485.70,492.39 L487.05,492.91 L488.41,493.43 L489.76,493.96 L491.11,494.48 L492.46,495.01 L493.80,495.54 L495.15,496.08 L496.49,496.61 L497.84,497.15 L499.18,497.69 L500.52,498.24 L501.86,498.78 L503.20,499.33 L504.54,499.89 L505.88,500.44 L507.21,501.00 L508.54,501.56 L509.88,502.12 L511.21,502.69 L512.54,503.26 L513.87,503.83 L515.20,504.41 L516.52,504.98 L517.85,505.56 L519.17,506.15 L520.49,506.73 L521.81,507.32 L523.13,507.92 L524.45,508.51 L525.77,509.11 L527.08,509.71 L528.40,510.32 L529.71,510.93 L531.02,511.54 L532.33,512.16 L533.64,512.77 L534.94,513.40 L536.25,514.02 L537.55,514.65 L538.85,515.28 L540.15,515.91 L541.45,516.55 L542.74,517.19 L544.04,517.84 L545.33,518.49 L546.62,519.14 L547.92,519.80 L549.20,520.46 L550.49,521.12 L551.78,521.78 L553.06,522.45 L554.34,523.13 L555.62,523.80 L556.90,524.49 L558.17,525.17 L559.45,525.86 L560.72,526.55 L561.99,527.25 L563.26,527.95 L564.53,528.65 L565.79,529.36 L567.06,530.07 L568.32,530.78 L569.58,531.50 L570.84,532.23 L572.09,532.95 L573.35,533.69 L574.59,534.43 L575.84,535.17 L577.07,535.93 L578.30,536.69 L579.52,537.47 L580.74,538.26 L581.94,539.06 L583.13,539.88 L584.31,540.71 L585.48,541.55 L586.63,542.41 L587.77,543.30 L588.89,544.20 L590.00,545.12 L591.09,546.06 L592.16,547.02 L593.21,548.01 L594.24,549.02 L595.25,550.06 L596.23,551.11 L597.20,552.19 L598.15,553.30 L599.07,554.42 L599.97,555.56 L600.84,556.73 L601.70,557.91 L602.53,559.11 L603.33,560.33 L604.11,561.57 L604.86,562.82 L605.59,564.10 L606.28,565.38 L606.95,566.68 L607.59,568.00 L608.19,569.32 L608.77,570.66 L609.31,572.01 L609.81,573.37 L610.28,574.74 L610.72,576.12 L611.12,577.51 L611.47,578.90 L611.79,580.30 L612.07,581.71 L612.31,583.12 L612.50,584.54 L612.66,585.95" stroke="#7fcdca" stroke-width="3.6" fill="none" stroke-linejoin="round"/>
<path d="M67.6,383.6 L86.0,387.6" stroke="#7fcdca" stroke-width="2.0" stroke-dasharray="5.5 3.5 1.6 3.5" fill="none"/>
<line x1="67.6" y1="388.1" x2="176" y2="388.1" stroke="#f29330" stroke-width="2.0" stroke-opacity="0.85"/>
<path d="M67.6,363.6 L176.5,386.6" stroke="#e2372b" stroke-width="3.1" stroke-dasharray="6.9 4.35" stroke-dashoffset="9.73" fill="none"/>
<path d="M176.58,386.36 L177.78,386.69 L178.98,387.02 L180.18,387.35 L181.38,387.68 L182.58,388.01 L183.78,388.34 L184.98,388.67 L186.18,389.00 L187.38,389.32 L188.58,389.65 L189.78,389.98 L190.98,390.31 L192.18,390.63 L193.38,390.96 L194.59,391.29 L195.79,391.61 L196.99,391.94 L198.19,392.26 L199.39,392.59 L200.60,392.91 L201.80,393.24 L203.00,393.56 L204.20,393.89 L205.41,394.21 L206.61,394.53 L207.81,394.86 L209.01,395.18 L210.22,395.50 L211.42,395.83 L212.62,396.15 L213.83,396.47 L215.03,396.80 L216.23,397.12 L217.44,397.44 L218.64,397.76 L219.85,398.09 L221.05,398.41 L222.25,398.73 L223.46,399.05 L224.66,399.37 L225.87,399.70 L227.07,400.02 L228.28,400.34 L229.48,400.66 L230.68,400.98 L231.89,401.30 L233.09,401.62 L234.30,401.95 L235.50,402.27 L236.71,402.59 L237.91,402.91 L239.12,403.23 L240.32,403.55 L241.53,403.87 L242.73,404.20 L243.94,404.52 L245.14,404.84 L246.35,405.16 L247.55,405.48 L248.76,405.81 L249.96,406.13 L251.16,406.45 L252.37,406.77 L253.57,407.09 L254.78,407.42 L255.98,407.74 L257.19,408.06 L258.39,408.39 L259.60,408.71 L260.80,409.03 L262.01,409.36 L263.21,409.68 L264.42,410.00 L265.62,410.33 L266.83,410.65 L268.03,410.98 L269.24,411.30 L270.44,411.63 L271.64,411.95 L272.85,412.28 L274.05,412.60 L275.26,412.93 L276.46,413.25 L277.67,413.58 L278.87,413.91 L280.07,414.23 L281.28,414.56 L282.48,414.89 L283.68,415.22 L284.89,415.55 L286.09,415.88 L287.29,416.20 L288.50,416.53 L289.70,416.86 L290.90,417.19 L292.11,417.53 L293.31,417.86 L294.51,418.19 L295.72,418.52 L296.92,418.85 L298.12,419.18 L299.32,419.52 L300.52,419.85 L301.73,420.19 L302.93,420.52 L304.13,420.86 L305.33,421.19 L306.53,421.53 L307.73,421.86 L308.93,422.20 L310.14,422.54 L311.34,422.88 L312.54,423.21 L313.74,423.55 L314.94,423.89 L316.14,424.23 L317.34,424.57 L318.54,424.91 L319.74,425.26 L320.94,425.60 L322.14,425.94 L323.33,426.29 L324.53,426.63 L325.73,426.98 L326.93,427.32 L328.13,427.67 L329.33,428.01 L330.52,428.36 L331.72,428.71 L332.92,429.06 L334.12,429.41 L335.31,429.76 L336.51,430.11 L337.71,430.46 L338.90,430.81 L340.10,431.17 L341.29,431.52 L342.49,431.87 L343.69,432.23 L344.88,432.58 L346.08,432.94 L347.27,433.30 L348.46,433.66 L349.66,434.02 L350.85,434.38 L352.05,434.74 L353.24,435.10 L354.43,435.46 L355.62,435.82 L356.82,436.19 L358.01,436.55 L359.20,436.92 L360.39,437.28 L361.58,437.65 L362.77,438.02 L363.97,438.39 L365.16,438.76 L366.35,439.13 L367.54,439.50 L368.72,439.87 L369.91,440.25 L371.10,440.62 L372.29,441.00 L373.48,441.37 L374.67,441.75 L375.85,442.13 L377.04,442.51 L378.23,442.89 L379.41,443.27 L380.60,443.65 L381.79,444.04 L382.97,444.42 L384.16,444.81 L385.34,445.19 L386.53,445.58 L387.71,445.97 L388.89,446.36 L390.08,446.75 L391.26,447.14 L392.44,447.54 L393.63,447.93 L394.81,448.32 L395.99,448.72 L397.17,449.12 L398.35,449.52 L399.53,449.92 L400.71,450.32 L401.89,450.72 L403.07,451.12 L404.25,451.53 L405.43,451.93 L406.60,452.34 L407.78,452.75 L408.96,453.16 L410.13,453.57 L411.31,453.98 L412.49,454.39 L413.66,454.80 L414.84,455.22 L416.01,455.64 L417.18,456.05 L418.36,456.47 L419.53,456.89 L420.70,457.31 L421.88,457.74 L423.05,458.16 L424.22,458.59 L425.39,459.01 L426.56,459.44 L427.73,459.87 L428.90,460.30 L430.07,460.73 L431.24,461.17 L432.40,461.60 L433.57,462.04 L434.74,462.47 L435.91,462.91 L437.07,463.35 L438.24,463.80 L439.40,464.24 L440.57,464.68 L441.73,465.13 L442.89,465.58 L444.06,466.03 L445.22,466.48 L446.38,466.93 L447.54,467.38 L448.70,467.84 L449.86,468.29 L451.02,468.75 L452.18,469.21 L453.34,469.67 L454.50,470.13 L455.66,470.60 L456.81,471.06 L457.97,471.53 L459.13,472.00 L460.28,472.47 L461.44,472.94 L462.59,473.41 L463.75,473.89 L464.90,474.36 L466.05,474.84 L467.20,475.32 L468.35,475.80 L469.50,476.29 L470.65,476.77 L471.80,477.25 L472.95,477.74 L474.10,478.23 L475.25,478.72 L476.39,479.21 L477.54,479.71 L478.68,480.20 L479.83,480.70 L480.97,481.20 L482.11,481.70 L483.25,482.20 L484.39,482.70 L485.53,483.21 L486.67,483.72 L487.81,484.22 L488.95,484.73 L490.09,485.25 L491.22,485.76 L492.36,486.27 L493.49,486.79 L494.63,487.31 L495.76,487.83 L496.89,488.35 L498.02,488.87 L499.15,489.40 L500.28,489.92 L501.41,490.45 L502.54,490.98 L503.66,491.51 L504.79,492.05 L505.92,492.58 L507.04,493.12 L508.16,493.66 L509.28,494.20 L510.40,494.74 L511.52,495.28 L512.64,495.83 L513.76,496.38 L514.88,496.92 L515.99,497.47 L517.11,498.03 L518.22,498.58 L519.33,499.14 L520.45,499.69 L521.56,500.25 L522.67,500.81 L523.77,501.38 L524.88,501.94 L525.99,502.51 L527.09,503.08 L528.20,503.64 L529.30,504.22 L530.40,504.79 L531.50,505.36 L532.60,505.94 L533.70,506.52 L534.80,507.10 L535.89,507.68 L536.99,508.27 L538.08,508.85 L539.17,509.44 L540.27,510.03 L541.36,510.62 L542.44,511.21 L543.53,511.81 L544.62,512.40 L545.71,513.00 L546.79,513.60 L547.88,514.20 L548.97,514.79 L550.05,515.39 L551.14,515.99 L552.23,516.59 L553.32,517.19 L554.41,517.78 L555.50,518.38 L556.59,518.98 L557.69,519.57 L558.78,520.17 L559.88,520.76 L560.97,521.36 L562.07,521.96 L563.16,522.55 L564.26,523.16 L565.35,523.76 L566.44,524.37 L567.53,524.97 L568.62,525.59 L569.71,526.20 L570.80,526.83 L571.88,527.45 L572.96,528.08 L574.04,528.72 L575.12,529.37 L576.19,530.02 L577.26,530.67 L578.33,531.34 L579.39,532.01 L580.44,532.69 L581.50,533.38 L582.54,534.07 L583.59,534.78 L584.62,535.49 L585.65,536.22 L586.67,536.95 L587.68,537.70 L588.69,538.45 L589.68,539.22 L590.66,540.00 L591.63,540.78 L592.59,541.58 L593.54,542.39 L594.47,543.22 L595.38,544.05 L596.29,544.90 L597.17,545.76 L598.04,546.63 L598.89,547.51 L599.73,548.41 L600.54,549.32 L601.34,550.24 L602.11,551.18 L602.86,552.14 L603.60,553.10 L604.30,554.09 L604.99,555.08 L605.65,556.09 L606.29,557.12 L606.90,558.16 L607.48,559.22 L608.04,560.30 L608.57,561.39 L609.07,562.49 L609.54,563.62 L609.98,564.76 L610.40,565.91 L610.78,567.08 L611.12,568.26 L611.44,569.46 L611.72,570.68 L611.97,571.91 L612.18,573.16 L612.36,574.42 L612.50,575.70 L612.60,576.99 L612.66,578.29 L612.69,579.62 L612.68,580.95 L612.63,582.30 L612.53,583.67 L612.40,585.04 L612.22,586.44" stroke="#e2372b" stroke-width="4.3" fill="none" stroke-linejoin="round"/>
<line x1="379" y1="711.7" x2="428.2" y2="711.7" stroke="#f29330" stroke-width="3.6"/>
<text x="255.56" y="24.60" font-size="28.00" textLength="158.12" lengthAdjust="spacingAndGlyphs">Deratingkurve</text>
<text x="149.32" y="56.60" font-size="28.00" textLength="121.69" lengthAdjust="spacingAndGlyphs">Federleiste</text>
<text x="280.23" y="56.60" font-size="28.00" textLength="239.74" lengthAdjust="spacingAndGlyphs">231-2102/026-000</text>
<text x="149.38" y="87.60" font-size="28.00" textLength="32.49" lengthAdjust="spacingAndGlyphs">mit</text>
<text x="188.17" y="87.60" font-size="28.00" textLength="102.34" lengthAdjust="spacingAndGlyphs">Stiftleiste</text>
<text x="298.14" y="87.60" font-size="28.00" textLength="222.15" lengthAdjust="spacingAndGlyphs">231-132/001-000</text>
<text x="61.58" y="120.80" font-size="28.00" textLength="124.52" lengthAdjust="spacingAndGlyphs">Rasterma&#223;</text>
<text x="190.25" y="120.80" font-size="28.00" textLength="15.63" lengthAdjust="spacingAndGlyphs">5</text>
<text x="214.33" y="120.80" font-size="28.00" textLength="39.27" lengthAdjust="spacingAndGlyphs">mm</text>
<text x="266.95" y="125.24" font-size="30.00" text-anchor="middle" transform="translate(269.25 120.80) skewX(-16.00) scale(1 1.240) translate(-269.25 -120.80)">/</text>
<text x="284.35" y="120.80" font-size="28.00" textLength="179.17" lengthAdjust="spacingAndGlyphs">Leiterquerschnitt</text>
<text x="470.06" y="120.80" font-size="28.00" textLength="39.84" lengthAdjust="spacingAndGlyphs">2,5</text>
<text x="518.64" y="120.80" font-size="28.00" textLength="41.55" lengthAdjust="spacingAndGlyphs">mm</text>
<text x="560.70" y="112.70" font-size="12.60" textLength="8.41" lengthAdjust="spacingAndGlyphs">2</text>
<text x="578.19" y="120.80" font-size="28.00" textLength="29.34" lengthAdjust="spacingAndGlyphs">&#8222;f&#8220;</text>
<text x="15.64" y="152.70" font-size="28.00" textLength="21.14" lengthAdjust="spacingAndGlyphs">In</text>
<text x="44.37" y="152.70" font-size="28.00" textLength="121.86" lengthAdjust="spacingAndGlyphs">Anlehnung</text>
<text x="175.55" y="152.70" font-size="28.00" textLength="35.67" lengthAdjust="spacingAndGlyphs">an:</text>
<text x="218.80" y="152.70" font-size="28.00" textLength="36.31" lengthAdjust="spacingAndGlyphs">EN</text>
<text x="261.21" y="152.70" font-size="28.00" textLength="126.48" lengthAdjust="spacingAndGlyphs">60512-5-2</text>
<text x="406.05" y="157.14" font-size="30.00" text-anchor="middle" transform="translate(408.35 152.70) skewX(-16.00) scale(1 1.240) translate(-408.35 -152.70)">/</text>
<text x="423.45" y="152.70" font-size="28.00" textLength="182.36" lengthAdjust="spacingAndGlyphs">Reduktionsfaktor</text>
<text x="614.12" y="152.70" font-size="28.00" textLength="38.13" lengthAdjust="spacingAndGlyphs">0,8</text>
<text x="34.60" y="191.80" font-size="21.50" textLength="51.51" lengthAdjust="spacingAndGlyphs">Strom</text>
<text x="90.27" y="191.80" font-size="21.50" textLength="18.13" lengthAdjust="spacingAndGlyphs">in</text>
<text x="114.60" y="191.80" font-size="21.50" textLength="13.59" lengthAdjust="spacingAndGlyphs">A</text>
<text x="373.44" y="657.80" font-size="21.50" textLength="208.13" lengthAdjust="spacingAndGlyphs">Umgebungstemperatur</text>
<text x="586.17" y="657.80" font-size="21.50" textLength="17.04" lengthAdjust="spacingAndGlyphs">in</text>
<text x="611.04" y="657.80" font-size="21.50" textLength="10.75" lengthAdjust="spacingAndGlyphs">&#176;</text>
<text x="622.42" y="657.80" font-size="21.50" textLength="15.25" lengthAdjust="spacingAndGlyphs">C</text>
<text x="63.96" y="719.00" font-size="22.00" textLength="24.15" lengthAdjust="spacingAndGlyphs" style="fill:#e2372b">2-,</text>
<text x="93.24" y="719.00" font-size="22.00" textLength="23.52" lengthAdjust="spacingAndGlyphs" style="fill:#7fcdca">4-,</text>
<text x="122.30" y="719.00" font-size="22.00" textLength="23.14" lengthAdjust="spacingAndGlyphs" style="fill:#4fb64a">6-,</text>
<text x="152.01" y="719.00" font-size="22.00" textLength="36.53" lengthAdjust="spacingAndGlyphs" style="fill:#312f94">12-,</text>
<text x="195.78" y="719.00" font-size="22.00" textLength="29.46" lengthAdjust="spacingAndGlyphs" style="fill:#1f8a43">16-</text>
<text x="225.22" y="717.00" font-size="21.50" textLength="46.44" lengthAdjust="spacingAndGlyphs">polig</text>
<text x="435.62" y="717.00" font-size="21.50" textLength="206.98" lengthAdjust="spacingAndGlyphs">Leiterbemessungsstrom</text>
</svg></body></html>
